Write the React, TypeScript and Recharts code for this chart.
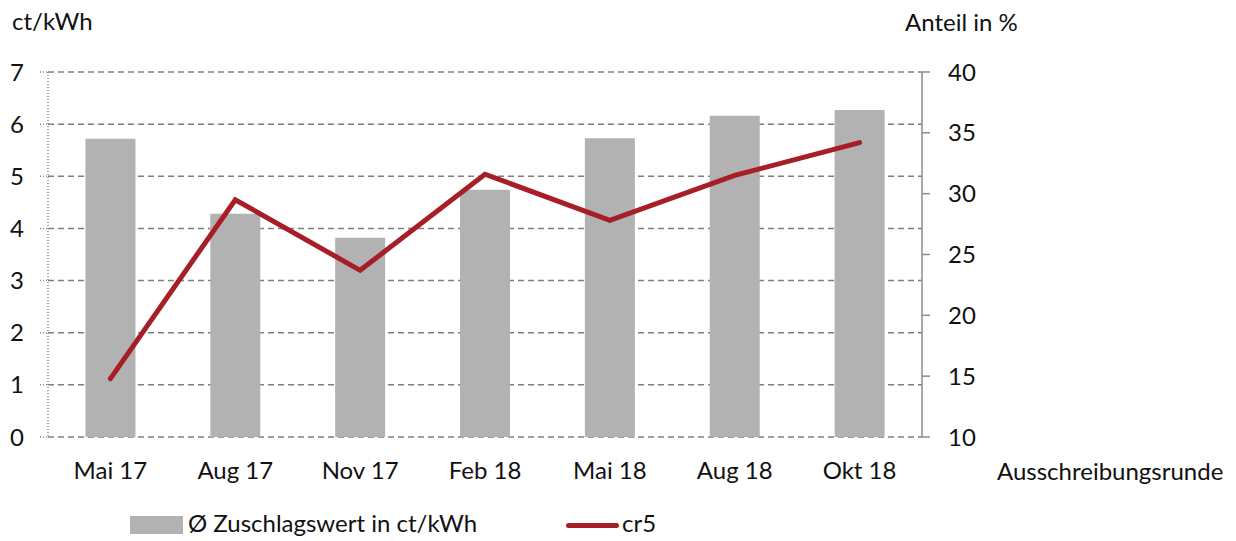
import React from 'react';
import {
  ComposedChart,
  Bar,
  Line,
  XAxis,
  YAxis,
  CartesianGrid,
  Legend,
  Customized,
} from 'recharts';

const rounds = ['Mai 17', 'Aug 17', 'Nov 17', 'Feb 18', 'Mai 18', 'Aug 18', 'Okt 18'];
const zuschlagswert = [5.72, 4.28, 3.82, 4.74, 5.73, 6.16, 6.27];
const cr5 = [14.8, 29.5, 23.7, 31.6, 27.8, 31.5, 34.2];
const leftTicks = [0, 1, 2, 3, 4, 5, 6, 7];
const rightTicks = [10, 15, 20, 25, 30, 35, 40];
const boundaryTicks = [0, 1, 2, 3, 4, 5, 6, 7];

const FONT = 'Lato, "Open Sans", sans-serif';
const FS = 24;
const BAR_COLOR = '#b2b2b2';
const LINE_COLOR = '#a71e27';
const AXIS_COLOR = '#8c8c8c';

const data = rounds.map((r, i) => ({ round: r, value: zuschlagswert[i], cr5: cr5[i] }));

const AxisTitles = () => (
  <g fontFamily={FONT} fontSize={FS} fill="#111">
    <text x={12} y={30}>ct/kWh</text>
    <text x={905} y={31}>Anteil in %</text>
    <text x={997} y={480}>Ausschreibungsrunde</text>
  </g>
);

const LegendContent = () => (
  <div style={{ position: 'relative', height: 30, fontFamily: FONT, fontSize: FS, color: '#111' }}>
    <div style={{ position: 'absolute', left: 130, top: 8, width: 53, height: 18, background: BAR_COLOR }} />
    <div style={{ position: 'absolute', left: 188, top: 0, lineHeight: '30px' }}>Ø Zuschlagswert in ct/kWh</div>
    <div style={{ position: 'absolute', left: 566, top: 15, width: 53, height: 5, borderRadius: 3, background: LINE_COLOR }} />
    <div style={{ position: 'absolute', left: 622, top: 0, lineHeight: '30px' }}>cr5</div>
  </div>
);

export default function App() {
  return (
    <div style={{ position: 'absolute', left: 0, top: 0, background: '#fff' }}>
      <ComposedChart
        width={1236}
        height={541}
        data={data}
        margin={{ top: 72, right: 214, bottom: 74, left: 0 }}
        barCategoryGap="30%"
      >
        <CartesianGrid
          vertical={false}
          yAxisId="left"
          stroke="#7f7f7f"
          strokeDasharray="6 4"
          strokeWidth={1.5}
        />
        <XAxis
          xAxisId="bounds"
          type="number"
          domain={[0, 7]}
          ticks={boundaryTicks}
          tick={false}
          height={0}
          tickSize={8}
          stroke={AXIS_COLOR}
          strokeWidth={1.5}
        />
        <XAxis
          xAxisId="cat"
          dataKey="round"
          height={30}
          axisLine={false}
          tickLine={false}
          tickSize={0}
          tickMargin={25}
          tick={{ fontFamily: FONT, fontSize: FS, fill: '#111' }}
        />
        <YAxis
          yAxisId="left"
          domain={[0, 7]}
          ticks={leftTicks}
          width={48}
          tickSize={8}
          tickMargin={16}
          axisLine={{ stroke: AXIS_COLOR, strokeDasharray: '1 2', strokeWidth: 1.5 }}
          tickLine={{ stroke: AXIS_COLOR, strokeDasharray: '1 2', strokeWidth: 1.5 }}
          tick={{ fontFamily: FONT, fontSize: FS, fill: '#111' }}
        />
        <YAxis
          yAxisId="right"
          orientation="right"
          domain={[10, 40]}
          ticks={rightTicks}
          width={100}
          tickSize={8}
          tickMargin={18}
          stroke={AXIS_COLOR}
          strokeWidth={1.5}
          tick={{ fontFamily: FONT, fontSize: FS, fill: '#111', textAnchor: 'start' }}
        />
        <Bar
          xAxisId="cat"
          yAxisId="left"
          dataKey="value"
          fill={BAR_COLOR}
          isAnimationActive={false}
        />
        <Line
          xAxisId="cat"
          yAxisId="right"
          dataKey="cr5"
          stroke={LINE_COLOR}
          strokeWidth={5}
          strokeLinecap="round"
          strokeLinejoin="miter"
          dot={false}
          activeDot={false}
          isAnimationActive={false}
        />
        <Legend
          layout="horizontal"
          verticalAlign="middle"
          align="center"
          wrapperStyle={{ position: 'absolute', left: 0, top: 508, width: 1236, height: 30 }}
          content={<LegendContent />}
        />
        <Customized component={AxisTitles} />
      </ComposedChart>
    </div>
  );
}
